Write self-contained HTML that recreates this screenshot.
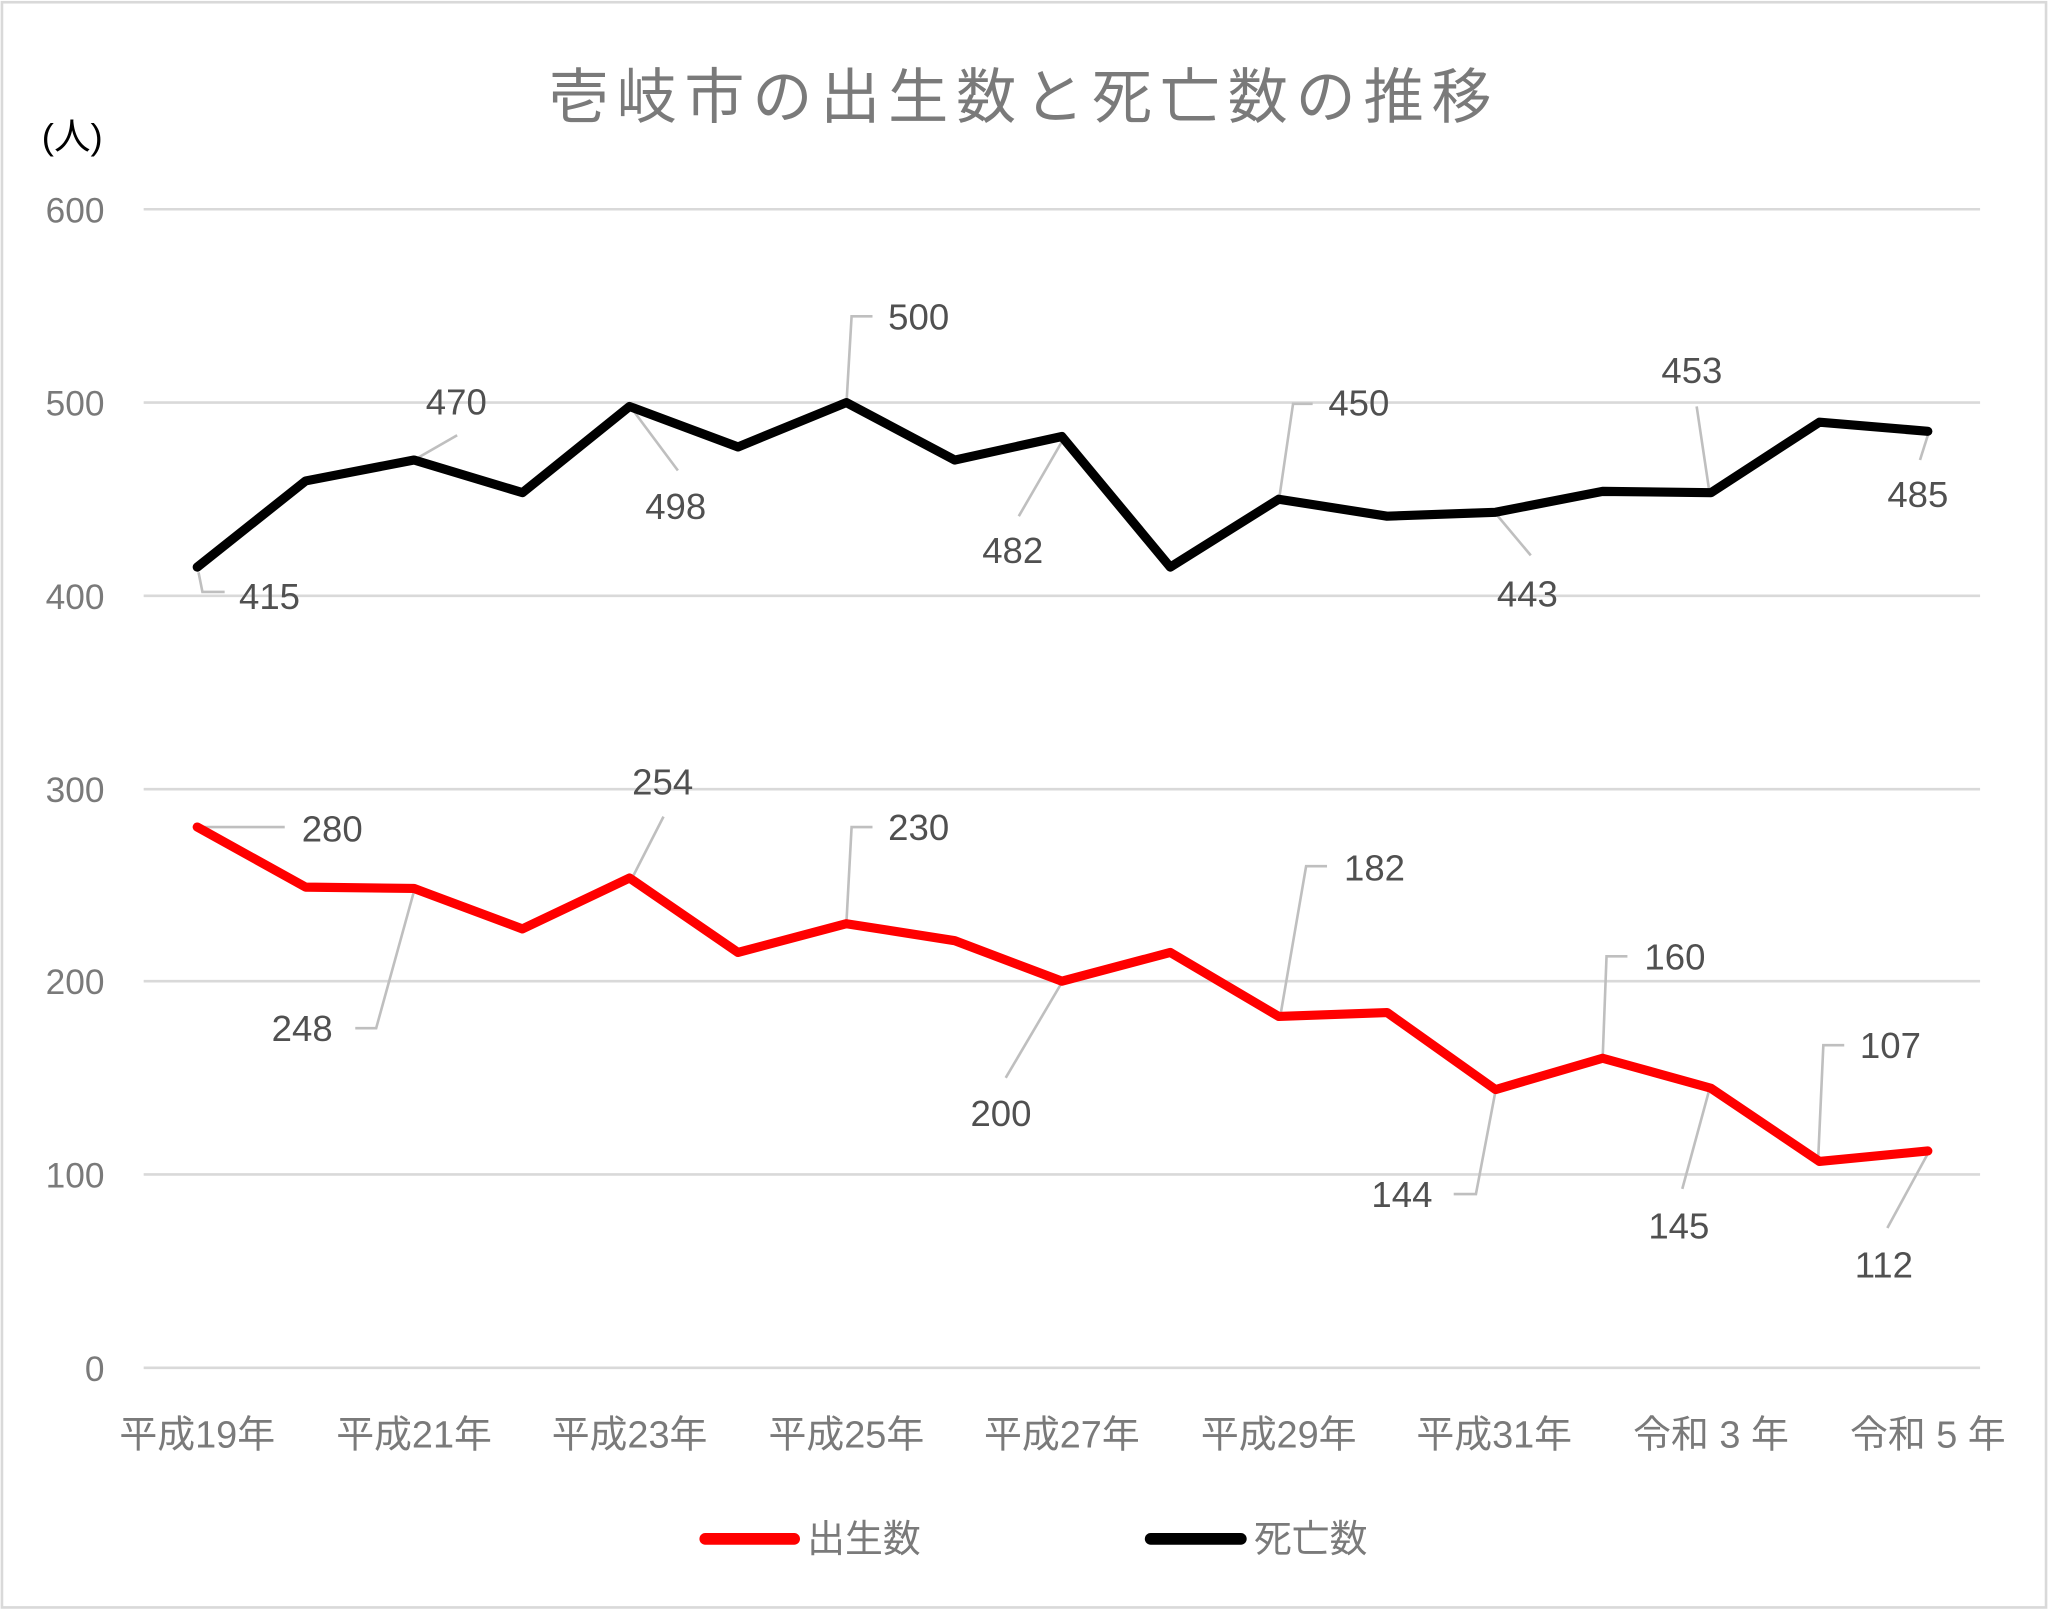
<!DOCTYPE html>
<html><head><meta charset="utf-8"><style>
html,body{margin:0;padding:0;background:#fff}
svg{display:block}
text{font-family:"Liberation Sans","Noto Sans CJK JP",sans-serif}
</style></head><body>
<svg width="2048" height="1611" viewBox="0 0 1568 1233" xmlns="http://www.w3.org/2000/svg">
<rect x="1.5" y="1.5" width="1565" height="1229" fill="#fff" stroke="#d9d9d9" stroke-width="2"/>
<text x="784" y="90" font-size="46" fill="#7a7a7a" text-anchor="middle" letter-spacing="6">壱岐市の出生数と死亡数の推移</text>
<text x="32" y="114" font-size="28" fill="#000">(人)</text>
<g stroke="#d9d9d9" stroke-width="2">
<line x1="110" y1="160" x2="1516" y2="160"/>
<line x1="110" y1="308" x2="1516" y2="308"/>
<line x1="110" y1="456" x2="1516" y2="456"/>
<line x1="110" y1="604" x2="1516" y2="604"/>
<line x1="110" y1="751" x2="1516" y2="751"/>
<line x1="110" y1="899" x2="1516" y2="899"/>
<line x1="110" y1="1047" x2="1516" y2="1047"/>
</g>
<g font-size="27" fill="#7a7a7a" text-anchor="end">
<text x="80" y="170">600</text><text x="80" y="318">500</text><text x="80" y="466">400</text>
<text x="80" y="614">300</text><text x="80" y="761">200</text><text x="80" y="909">100</text><text x="80" y="1057">0</text>
</g>
<g font-size="29" fill="#7a7a7a" text-anchor="middle">
<text x="151" y="1108">平成19年</text><text x="317" y="1108">平成21年</text><text x="482" y="1108">平成23年</text>
<text x="648" y="1108">平成25年</text><text x="813" y="1108">平成27年</text><text x="979" y="1108">平成29年</text>
<text x="1144" y="1108">平成31年</text><text x="1310" y="1108">令和 3 年</text><text x="1476" y="1108">令和 5 年</text>
</g>
<g stroke="#bfbfbf" stroke-width="2" fill="none">
<polyline points="152,438 155,453 172,453"/>
<line x1="317" y1="352" x2="350" y2="333"/>
<line x1="484" y1="313" x2="519" y2="360"/>
<polyline points="648,310 652,242 668,242"/>
<line x1="813" y1="338" x2="780" y2="395"/>
<polyline points="979,384 990,309 1005,309"/>
<line x1="1146" y1="394" x2="1172" y2="425"/>
<line x1="1299" y1="311" x2="1309" y2="378"/>
<line x1="1476" y1="333" x2="1470" y2="352"/>
<line x1="151" y1="633" x2="218" y2="633"/>
<polyline points="317,682 288,787 272,787"/>
<line x1="484" y1="672" x2="508" y2="625"/>
<polyline points="648,707 652,633 668,633"/>
<line x1="813" y1="752" x2="770" y2="825"/>
<polyline points="980,779 1000,663 1016,663"/>
<polyline points="1145,835 1130,914 1113,914"/>
<polyline points="1227,811 1230,732 1246,732"/>
<line x1="1309" y1="833" x2="1288" y2="910"/>
<polyline points="1392,888 1396,800 1412,800"/>
<line x1="1476" y1="883" x2="1445" y2="940"/>
</g>
<polyline fill="none" stroke="#000" stroke-width="7" stroke-linejoin="round" stroke-linecap="round"
points="151,434 234,368 317,352 400,377 482,311 565,342 648,308 731,352 813,334 896,434 979,382 1062,395 1145,392 1227,376 1310,377 1393,323 1476,330"/>
<polyline fill="none" stroke="#f00" stroke-width="7" stroke-linejoin="round" stroke-linecap="round"
points="151,633 234,679 317,680 400,711 482,672 565,729 648,707 731,720 813,751 896,729 979,778 1062,775 1145,834 1227,810 1310,833 1393,889 1476,881"/>
<g font-size="28" fill="#505050">
<text x="183" y="466">415</text><text x="326" y="317">470</text><text x="494" y="397">498</text>
<text x="680" y="252">500</text><text x="752" y="431">482</text><text x="1017" y="318">450</text>
<text x="1146" y="464">443</text><text x="1272" y="293">453</text><text x="1445" y="388">485</text>
<text x="231" y="644">280</text><text x="208" y="797">248</text><text x="484" y="608">254</text>
<text x="680" y="643">230</text><text x="743" y="862">200</text><text x="1029" y="674">182</text>
<text x="1050" y="924">144</text><text x="1259" y="742">160</text><text x="1262" y="948">145</text>
<text x="1424" y="810">107</text><text x="1420" y="978">112</text>
</g>
<line x1="540" y1="1178" x2="608" y2="1178" stroke="#f00" stroke-width="9" stroke-linecap="round"/>
<text x="618" y="1188" font-size="29" fill="#7a7a7a">出生数</text>
<line x1="881" y1="1178" x2="950" y2="1178" stroke="#000" stroke-width="9" stroke-linecap="round"/>
<text x="960" y="1188" font-size="29" fill="#7a7a7a">死亡数</text>
</svg>
</body></html>
